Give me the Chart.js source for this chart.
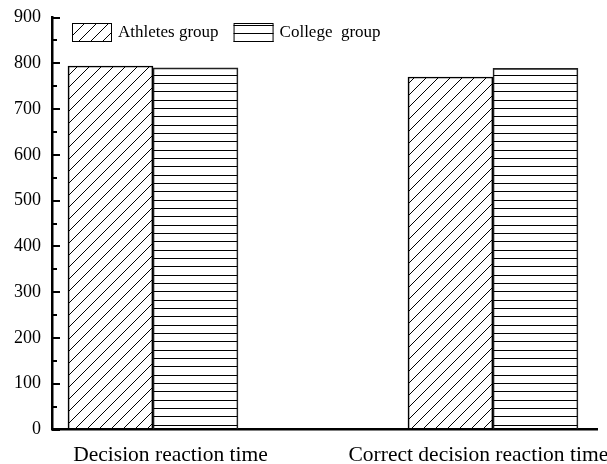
<!DOCTYPE html>
<html>
<head>
<meta charset="utf-8">
<script src="https://cdn.jsdelivr.net/npm/chart.js@4.4.1/dist/chart.umd.min.js"></script>
<style>
  html, body { margin: 0; padding: 0; background: #fff; }
  #wrap { width: 607px; height: 464px; }
</style>
</head>
<body>
<div id="wrap"><canvas id="c" width="607" height="464"></canvas></div>
<script>
// Reaction times (ms) for the two groups
const categories = ['Decision reaction time', 'Correct decision reaction time'];
const seriesNames = ['Athletes group', 'College  group'];
const athletesGroup = [794, 770];
const collegeGroup = [790, 789];
const yTickValues = [0, 100, 200, 300, 400, 500, 600, 700, 800, 900];

const FONT = '"Liberation Serif", "Times New Roman", serif';

// Hatch fills
function diagonalHatch() {
  const s = 12;
  const c = document.createElement('canvas');
  c.width = s; c.height = s;
  const g = c.getContext('2d');
  g.strokeStyle = '#000';
  g.lineWidth = 1;
  g.beginPath();
  g.moveTo(0, s); g.lineTo(s, 0);
  g.moveTo(-2, 2); g.lineTo(2, -2);
  g.moveTo(s - 2, s + 2); g.lineTo(s + 2, s - 2);
  g.stroke();
  return g.createPattern(c, 'repeat');
}
function horizontalHatch() {
  const c = document.createElement('canvas');
  c.width = 4; c.height = 25;
  const g = c.getContext('2d');
  g.fillStyle = '#000';
  [0, 8, 16].forEach(y => g.fillRect(0, y, 4, 1));
  return g.createPattern(c, 'repeat');
}

const fillAthletes = diagonalHatch();
const fillCollege = horizontalHatch();

// Inward major/minor ticks on the value axis
const valueAxisTicks = {
  id: 'valueAxisTicks',
  afterDraw(chart) {
    const { ctx, chartArea: a, scales: { y } } = chart;
    const vals = y.ticks.map(t => t.value);
    ctx.save();
    ctx.strokeStyle = '#000';
    ctx.lineWidth = 2;
    ctx.beginPath();
    vals.forEach((v, i) => {
      const py = Math.round(y.getPixelForValue(v));
      ctx.moveTo(a.left, py); ctx.lineTo(a.left + 8, py);
      if (i < vals.length - 1) {
        const pm = Math.round(y.getPixelForValue((v + vals[i + 1]) / 2));
        ctx.moveTo(a.left, pm); ctx.lineTo(a.left + 5, pm);
      }
    });
    ctx.stroke();
    ctx.restore();
  }
};

// Legend with hatched swatches, placed inside the plot area
const hatchLegend = {
  id: 'hatchLegend',
  afterDraw(chart) {
    const { ctx, chartArea: a } = chart;
    ctx.save();
    ctx.font = '17px ' + FONT;
    ctx.textBaseline = 'middle';
    ctx.fillStyle = '#000';
    let x = a.left + 20;
    const top = a.top + 5.5;
    const bw = 40, bh = 19;
    chart.data.datasets.forEach(ds => {
      ctx.fillStyle = ds.backgroundColor;
      ctx.fillRect(x, top, bw, bh);
      ctx.strokeStyle = '#000';
      ctx.lineWidth = 1;
      ctx.strokeRect(x + 0.5, top + 0.5, bw - 1, bh - 1);
      ctx.fillStyle = '#000';
      ctx.fillText(ds.label, x + bw + 6, top + bh / 2 + 0.5);
      x += bw + 6 + ctx.measureText(ds.label).width + 15;
    });
    ctx.restore();
  }
};

new Chart(document.getElementById('c'), {
  type: 'bar',
  data: {
    datasets: [
      {
        label: seriesNames[0],
        data: athletesGroup.map((v, i) => ({ x: i + 1, y: v })),
        backgroundColor: fillAthletes,
        borderColor: '#000',
        borderWidth: 1
      },
      {
        label: seriesNames[1],
        data: collegeGroup.map((v, i) => ({ x: i + 1, y: v })),
        backgroundColor: fillCollege,
        borderColor: '#222',
        borderWidth: 1
      }
    ]
  },
  options: {
    responsive: false,
    devicePixelRatio: 1,
    animation: false,
    barThickness: 85,
    layout: { padding: { left: 0, right: 10, top: 17.5, bottom: 0 } },
    plugins: {
      legend: { display: false },
      tooltip: { enabled: false }
    },
    scales: {
      x: {
        type: 'linear',
        offset: false,
        min: 0.703,
        max: 2.306,
        grid: { display: false, drawTicks: false, offset: false },
        border: { display: true, color: '#000', width: 2.5 },
        afterBuildTicks: s => { s.ticks = [{ value: 1.0515 }, { value: 1.957 }]; },
        afterFit: s => { s.height = 34.5; s.paddingLeft = 0; s.paddingRight = 0; },
        ticks: {
          autoSkip: false,
          maxRotation: 0,
          padding: 13,
          color: '#000',
          font: { family: FONT, size: 21.5 },
          callback: (v, i) => categories[i]
        }
      },
      y: {
        min: 0,
        max: 900,
        grid: { display: false, drawTicks: false },
        border: { display: true, color: '#000', width: 2.5 },
        afterBuildTicks: s => { s.ticks = yTickValues.map(v => ({ value: v })); },
        afterFit: s => { s.width = 52; s.paddingTop = 0; s.paddingBottom = 0; },
        ticks: {
          padding: 11,
          color: '#000',
          font: { family: FONT, size: 18 },
          callback: v => String(v)
        }
      }
    }
  },
  plugins: [valueAxisTicks, hatchLegend]
});
</script>
</body>
</html>
